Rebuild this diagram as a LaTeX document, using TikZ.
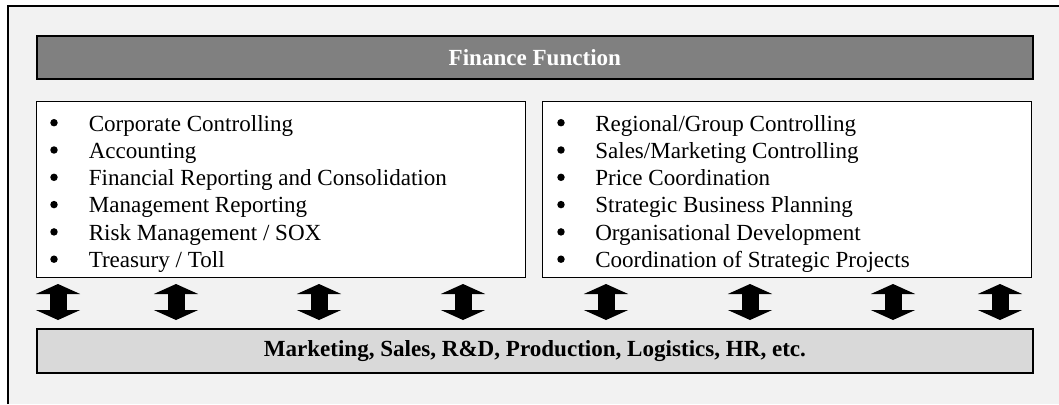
\documentclass[tikz,border=0pt]{standalone}
\usepackage{fontspec}
\setmainfont{Liberation Serif}
\usetikzlibrary{arrows.meta}
\definecolor{panelgray}{HTML}{F2F2F2}
\definecolor{titlegray}{HTML}{808080}
\definecolor{bargray}{HTML}{D9D9D9}
\tikzset{
  bar/.style={draw=black, line width=1.3pt, inner sep=0pt, anchor=north west, minimum width=747pt},
  listbox/.style={draw=black, line width=0.9pt, fill=white, inner sep=0pt, anchor=north west, minimum width=366.75pt, minimum height=132pt},
  item/.style={anchor=base west, inner sep=0pt, font=\fontsize{17.3}{20}\selectfont},
  dot/.style={circle, fill=black, inner sep=0pt, minimum size=5.6pt},
  bigarrow/.style={line width=12.75pt, -{Triangle[width=33pt,length=7.5pt]}, black},
}
\begin{document}
\begin{tikzpicture}[x=0.75pt, y=-0.75pt]
\useasboundingbox (0,0) rectangle (1059,404);
% outer panel
\fill[panelgray] (8,6) rectangle (1059,404);
\draw[line width=0.9pt] (8,404) -- (8,6) -- (1059,6);
% title bar
\node[bar, fill=titlegray, minimum height=32.25pt, text=white, font=\bfseries\fontsize{17.3}{20}\selectfont] (title) at (36,35) {Finance Function};
% list boxes
\node[listbox] (left) at (36,101) {};
\node[listbox] (right) at (542,101) {};
% bottom bar
\node[bar, fill=bargray, minimum height=33pt, font=\bfseries\fontsize{17.3}{20}\selectfont] (base) at (36,328) {Marketing, Sales, R\&D, Production, Logistics, HR, etc.};
% left list
\foreach \t [count=\i from 0] in {Corporate Controlling, Accounting, Financial Reporting and Consolidation, Management Reporting, Risk Management / SOX, Treasury / Toll}{
  \node[dot] (lb\i) at (54,122.7+27.3*\i) {};
  \node[item] (lt\i) at (88.5,131+27.3*\i) {\t};
}
% right list
\foreach \t [count=\i from 0] in {Regional/Group Controlling, Sales/Marketing Controlling, Price Coordination, Strategic Business Planning, Organisational Development, Coordination of Strategic Projects}{
  \node[dot] (rb\i) at (561,122.7+27.3*\i) {};
  \node[item] (rt\i) at (595,131+27.3*\i) {\t};
}
% double arrows
\foreach \x [count=\k] in {58,176,319,463,606,750,893,1000}{
  \coordinate (m\k) at (\x,302);
  \coordinate (u\k) at (\x,284);
  \coordinate (d\k) at (\x,320);
  \draw[bigarrow] (m\k) -- (u\k);
  \draw[bigarrow] (m\k) -- (d\k);
}
\end{tikzpicture}
\end{document}
